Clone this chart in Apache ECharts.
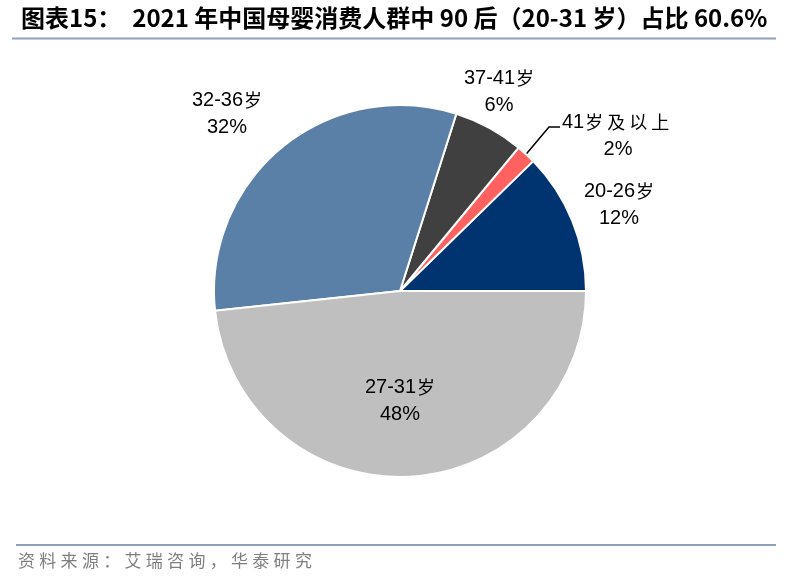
<!DOCTYPE html>
<html><head><meta charset="utf-8">
<script src="https://cdn.jsdelivr.net/npm/echarts@6/dist/echarts.min.js"></script>
<style>html,body{margin:0;padding:0;background:#fff}#c{width:800px;height:583px}</style>
</head><body><div id="c"></div>
<script>
const titleText = '图表15：  2021 年中国母婴消费人群中 90 后（20-31 岁）占比 60.6%';
const sourceText = '资料来源：艾瑞咨询，华泰研究';
const categories = ['20-26岁', '41岁及以上', '37-41岁', '32-36岁', '27-31岁'];
const values = [12.3, 1.7, 6.1, 31.6, 48.3];
const colors = ['#003471', '#FF6161', '#404040', '#5B80A8', '#BFBFBF'];

const FONT = "'Liberation Sans', Arial, 'Noto Sans CJK SC', sans-serif";
const TFONT = "'Liberation Sans Narrow', 'Arial Narrow', 'Noto Sans CJK SC', sans-serif";
const labelPos = [
  {x: 619, y: 205, align: 'center'},
  {x: 562, y: 136, align: 'left'},
  {x: 499, y: 92, align: 'center'},
  {x: 227, y: 114, align: 'center'},
  {x: 400, y: 401, align: 'center'}
];

const graphics = [
  {type: 'text', left: 21, top: 6, style: {text: titleText, font: "bold 24px " + TFONT, fill: '#000'}},
  {type: 'line', shape: {x1: 12, y1: 38.5, x2: 776, y2: 38.5}, style: {stroke: '#8DA2BA', lineWidth: 2}},
  {type: 'line', shape: {x1: 16, y1: 545, x2: 776, y2: 545}, style: {stroke: '#8DA2BA', lineWidth: 2}}
];
Array.from(sourceText).forEach((ch, i) => {
  graphics.push({type: 'text', x: 18 + i * 21.3, y: 552,
    style: {text: ch, font: "17px 'Noto Sans CJK SC', sans-serif", fill: '#7F7F7F'}});
});

function fmt(p) {
  const pct = Math.round(p.value) + '%';
  if (p.dataIndex === 1) {
    return '41{s|岁 及 以 上}\n{b|' + pct + '}';
  }
  return p.name.replace('岁', '{s|岁}') + '\n' + pct;
}

const chart = echarts.init(document.getElementById('c'), null, {renderer: 'canvas'});
chart.setOption({
  backgroundColor: '#fff',
  animation: false,
  graphic: graphics,
  series: [{
    type: 'pie',
    center: [400, 291],
    radius: 186,
    startAngle: 0,
    clockwise: false,
    itemStyle: {borderColor: '#fff', borderWidth: 2},
    label: {
      show: true,
      position: 'outside',
      formatter: fmt,
      fontFamily: FONT,
      fontSize: 20,
      lineHeight: 27,
      color: '#000',
      align: 'center',
      rich: {
        s: {fontFamily: "'Noto Sans CJK SC', sans-serif", fontSize: 18, color: '#000', lineHeight: 27, padding: [0, 0, 0, 1]},
        b: {fontFamily: FONT, fontSize: 20, color: '#000', lineHeight: 27, width: 112, align: 'center'}
      }
    },
    labelLine: {show: false},
    labelLayout: function (params) {
      const i = params.dataIndex;
      const p = labelPos[i];
      const out = {x: p.x, y: p.y, align: p.align, verticalAlign: 'middle'};
      if (i === 1 && params.labelLinePoints) {
        const s = params.labelLinePoints[0];
        out.labelLinePoints = [s, [p.x - 13, p.y - 9], [p.x - 2, p.y - 9]];
      }
      return out;
    },
    data: categories.map((n, i) => ({
      name: n, value: values[i], itemStyle: {color: colors[i]},
      labelLine: i === 1 ? {show: true, lineStyle: {color: '#000', width: 1.5}} : {show: false},
      label: i === 1 ? {align: 'left'} : undefined
    }))
  }]
});
</script></body></html>
